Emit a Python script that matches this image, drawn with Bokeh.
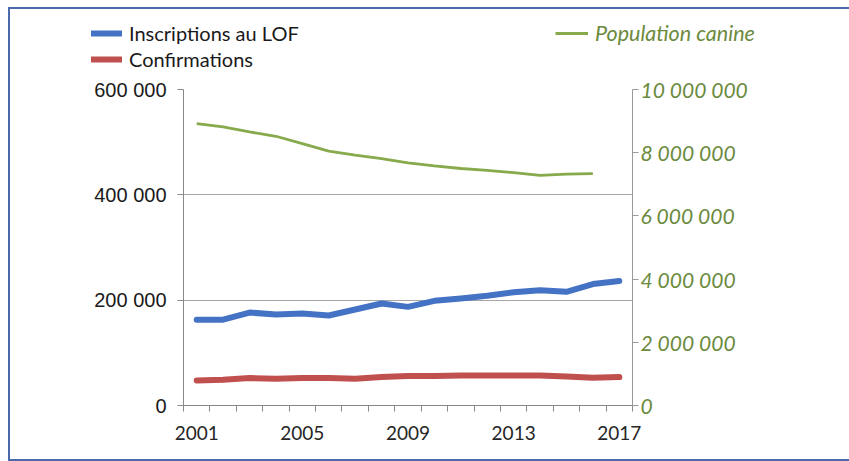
from bokeh.plotting import figure
from bokeh.layouts import column
from bokeh.models import (LinearAxis, Range1d, FixedTicker, Legend, LegendItem,
                          ColumnDataSource)
from bokeh.embed import file_html
from bokeh.resources import INLINE

# --- data -------------------------------------------------------------
years = [2001, 2002, 2003, 2004, 2005, 2006, 2007, 2008, 2009,
         2010, 2011, 2012, 2013, 2014, 2015, 2016, 2017]
inscriptions_lof = [163000, 163000, 176500, 172700, 174600, 170800, 182200, 193700,
                    187300, 198700, 203200, 208300, 215200, 219000, 215900, 230500, 236200]
confirmations = [47600, 48900, 52000, 50800, 52000, 52000, 50800, 54000, 55900,
                 55900, 57100, 57100, 57100, 57100, 55200, 52700, 54000]
pop_years = [2001, 2002, 2003, 2004, 2005, 2006, 2007, 2008,
             2009, 2010, 2011, 2012, 2013, 2014, 2015, 2016]
population_canine = [8920000, 8815000, 8656000, 8520000, 8290000, 8050000, 7920000, 7810000,
                     7680000, 7580000, 7500000, 7440000, 7370000, 7280000, 7320000, 7340000]

year_labels = [2001, 2005, 2009, 2013, 2017]
left_ticks = [0, 200000, 400000, 600000]
right_ticks = [0, 2000000, 4000000, 6000000, 8000000, 10000000]

series_names = ["Inscriptions au LOF", "Confirmations", "Population canine"]


def fr_number(v):
    return f"{v:,}".replace(",", " ")


BLUE = "#4472c4"
RED = "#c0504d"
GREEN = "#86aa4c"
GREEN_TEXT = "#6b8a3d"
GRAY = "#a6a6a6"
FRAME_BLUE = "#4a6aab"

# ---------------------------------------------------------------- chart
p = figure(width=839, height=388, output_backend="svg", toolbar_location=None,
           x_range=Range1d(2000.5, 2017.5), y_range=Range1d(0, 600000),
           min_border_left=173, min_border_right=217,
           min_border_top=18, min_border_bottom=54)
p.frame_align = False
p.extra_y_ranges = {"pop": Range1d(0, 10000000)}
p.outline_line_color = None
p.border_fill_color = "white"
p.background_fill_color = "white"

# x axis: labels every 4 years, tick marks between categories
xa = p.xaxis[0]
xa.ticker = FixedTicker(ticks=year_labels,
                        minor_ticks=[y - 0.5 for y in years] + [years[-1] + 0.5])
xa.major_tick_out = 0
xa.major_tick_in = 0
xa.minor_tick_out = 6
xa.minor_tick_in = 0
xa.minor_tick_line_color = "#888888"
xa.axis_line_color = "#888888"
xa.major_label_text_font = "Lato"
xa.major_label_text_font_size = "19px"
xa.major_label_text_color = "#262626"
xa.major_label_standoff = 14
p.xgrid.visible = False

# left axis
ya = p.yaxis[0]
ya.ticker = FixedTicker(ticks=left_ticks)
ya.major_label_overrides = {v: fr_number(v) for v in left_ticks}
ya.major_tick_out = 6
ya.major_tick_in = 0
ya.minor_tick_out = 0
ya.minor_tick_in = 0
ya.axis_line_color = "#888888"
ya.major_tick_line_color = "#888888"
ya.major_label_text_font = "Liberation Sans"
ya.major_label_text_font_size = "20px"
ya.major_label_text_color = "#1a1a1a"
ya.major_label_standoff = 11
p.ygrid.ticker = FixedTicker(ticks=left_ticks)
p.ygrid.grid_line_color = GRAY

# right axis for the dog population, labels flush right
ra = LinearAxis(y_range_name="pop", ticker=FixedTicker(ticks=right_ticks))
ra.major_label_overrides = {v: fr_number(v) for v in right_ticks}
ra.major_tick_out = 6
ra.major_tick_in = 0
ra.minor_tick_out = 0
ra.minor_tick_in = 0
ra.axis_line_color = "#999999"
ra.major_tick_line_color = "#999999"
ra.major_label_text_font = "Lato"
ra.major_label_text_font_style = "italic"
ra.major_label_text_font_size = "21px"
ra.major_label_text_color = GREEN_TEXT
ra.major_label_text_align = "right"
ra.major_label_standoff = 2
p.add_layout(ra, "right")

src = ColumnDataSource(dict(year=years, lof=inscriptions_lof, conf=confirmations))
pop_src = ColumnDataSource(dict(year=pop_years, pop=population_canine))

p.line("year", "pop", source=pop_src, y_range_name="pop",
       line_color=GREEN, line_width=2.8, line_join="round")
p.line("year", "conf", source=src, line_color=RED, line_width=6,
       line_cap="round", line_join="round")
p.line("year", "lof", source=src, line_color=BLUE, line_width=6,
       line_cap="round", line_join="round")

# ---------------------------------------------------------------- legend strip
# The series are repeated here only to feed the legend glyphs; the strip's
# ranges keep them out of view.
lg = figure(width=839, height=62, output_backend="svg", toolbar_location=None,
            x_axis_type=None, y_axis_type=None,
            x_range=Range1d(0, 1), y_range=Range1d(0, 1),
            min_border_left=0, min_border_right=0, min_border_top=0, min_border_bottom=0)
lg.frame_align = False
lg.outline_line_color = None
lg.grid.visible = False
lg.border_fill_color = "white"
lg.background_fill_color = "white"

k_lof = lg.line(x=years, y=inscriptions_lof, line_color=BLUE, line_width=6, line_cap="round")
k_conf = lg.line(x=years, y=confirmations, line_color=RED, line_width=6, line_cap="round")
k_pop = lg.line(x=pop_years, y=population_canine, line_color=GREEN, line_width=2.8)

leg_left = Legend(items=[LegendItem(label=series_names[0], renderers=[k_lof]),
                         LegendItem(label=series_names[1], renderers=[k_conf])],
                  location=(81, 0), orientation="vertical",
                  background_fill_alpha=0, border_line_color=None,
                  padding=0, margin=0, spacing=2,
                  glyph_width=31, glyph_height=20, label_height=20,
                  label_standoff=7,
                  label_text_font="Lato", label_text_font_size="20px",
                  label_text_color="#1a1a1a")
leg_right = Legend(items=[LegendItem(label=series_names[2], renderers=[k_pop])],
                   location=(545, 25), orientation="vertical",
                   background_fill_alpha=0, border_line_color=None,
                   padding=0, margin=0,
                   glyph_width=33, glyph_height=20, label_height=20,
                   label_standoff=7,
                   label_text_font="Lato", label_text_font_size="21.5px",
                   label_text_font_style="italic", label_text_color=GREEN_TEXT)
lg.add_layout(leg_left, "center")
lg.add_layout(leg_right, "center")

page = column(lg, p, spacing=0,
              styles={"margin-left": "8px", "margin-top": "7px",
                      "border-left": f"2px solid {FRAME_BLUE}",
                      "border-top": f"2px solid {FRAME_BLUE}",
                      "border-bottom": f"2px solid {FRAME_BLUE}"})

open("out.html", "w").write(file_html(page, INLINE))
